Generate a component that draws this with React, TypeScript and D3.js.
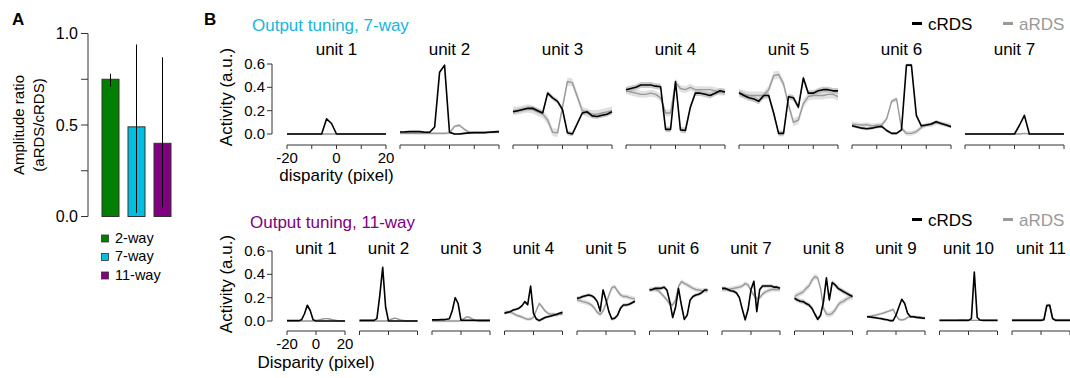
import React from "react";
import * as d3 from "d3";

const FONT = "Liberation Sans, Arial, Helvetica, sans-serif";

// ---- panel A data ----
const groups = ["2-way", "7-way", "11-way"];
const groupColors = ["#007f00", "#00bfe0", "#800080"];
const ampRatio = [0.75, 0.49, 0.4];
const ampLow = [0.71, 0.02, 0.05];
const ampHigh = [0.78, 0.94, 0.87];

// ---- panel B data ----
const disparity = [-20, -18, -16, -14, -12, -10, -8, -6, -4, -2, 0, 2, 4, 6, 8, 10, 12, 14, 16, 18, 20];

const cRDS7 = [
  [0, 0, 0, 0, 0, 0, 0, 0, 0.13, 0.09, 0, 0, 0, 0, 0, 0, 0, 0, 0, 0, 0],
  [0.017, 0.018, 0.02, 0.022, 0.02, 0.015, 0.015, 0.06, 0.53, 0.59, 0.015, 0.0, 0.0, 0.005, 0.01, 0.012, 0.012, 0.012, 0.015, 0.018, 0.02],
  [0.19, 0.2, 0.21, 0.22, 0.22, 0.2, 0.18, 0.35, 0.31, 0.28, 0.21, 0.01, 0.0, 0.09, 0.18, 0.19, 0.155, 0.15, 0.16, 0.17, 0.19],
  [0.38, 0.39, 0.4, 0.42, 0.42, 0.42, 0.41, 0.405, 0.04, 0.04, 0.45, 0.035, 0.03, 0.23, 0.35, 0.35, 0.34, 0.33, 0.35, 0.37, 0.36],
  [0.354, 0.33, 0.31, 0.3, 0.28, 0.33, 0.33, 0.18, 0.005, 0.005, 0.32, 0.31, 0.23, 0.48, 0.35, 0.35, 0.37, 0.38, 0.38, 0.37, 0.37],
  [0.07, 0.06, 0.05, 0.045, 0.05, 0.06, 0.065, 0.03, 0.005, 0.005, 0.035, 0.59, 0.59, 0.16, 0.07, 0.077, 0.085, 0.105, 0.09, 0.077, 0.063],
  [0, 0, 0, 0, 0, 0, 0, 0, 0, 0, 0, 0.075, 0.16, 0, 0, 0, 0, 0, 0, 0, 0],
];
const aRDS7 = [
  [0, 0, 0, 0, 0, 0, 0, 0, 0, 0, 0, 0, 0, 0, 0, 0, 0, 0, 0, 0, 0],
  [0.005, 0.005, 0.005, 0.005, 0.005, 0.005, 0.005, 0.005, 0.005, 0.005, 0.01, 0.065, 0.075, 0.04, 0.015, 0.012, 0.012, 0.012, 0.015, 0.015, 0.018],
  [0.2, 0.2, 0.21, 0.22, 0.21, 0.19, 0.17, 0.12, 0.015, 0.01, 0.23, 0.45, 0.44, 0.32, 0.2, 0.18, 0.17, 0.17, 0.18, 0.19, 0.2],
  [0.37, 0.36, 0.35, 0.34, 0.34, 0.35, 0.34, 0.31, 0.18, 0.18, 0.44, 0.39, 0.38, 0.4, 0.38, 0.38, 0.38, 0.38, 0.37, 0.36, 0.36],
  [0.35, 0.34, 0.33, 0.33, 0.33, 0.33, 0.38, 0.5, 0.51, 0.43, 0.25, 0.1, 0.12, 0.26, 0.32, 0.33, 0.33, 0.33, 0.34, 0.34, 0.32],
  [0.085, 0.08, 0.077, 0.08, 0.07, 0.075, 0.077, 0.13, 0.28, 0.3, 0.05, 0.005, 0.005, 0.02, 0.057, 0.077, 0.08, 0.097, 0.09, 0.08, 0.07],
  [0, 0, 0, 0, 0, 0, 0, 0, 0, 0, 0, 0, 0.005, 0, 0, 0, 0, 0, 0, 0, 0],
];
const bandC7 = [0.004, 0.008, 0.02, 0.025, 0.025, 0.012, 0.004];
const bandA7 = [0.004, 0.012, 0.035, 0.03, 0.035, 0.02, 0.004];

const cRDS11 = [
  [0.003, 0.003, 0.003, 0.003, 0.003, 0.01, 0.06, 0.135, 0.09, 0.01, 0, 0, 0, 0, 0, 0, 0, 0, 0, 0, 0],
  [0.005, 0.005, 0.005, 0.005, 0.005, 0.005, 0.02, 0.22, 0.46, 0.12, 0.0, 0, 0, 0, 0, 0, 0, 0, 0, 0, 0],
  [0.01, 0.01, 0.01, 0.012, 0.012, 0.015, 0.02, 0.09, 0.2, 0.15, 0.005, 0.005, 0.005, 0.005, 0.005, 0.005, 0.005, 0.005, 0.005, 0.005, 0.005],
  [0.066, 0.074, 0.08, 0.094, 0.1, 0.11, 0.13, 0.166, 0.14, 0.3, 0.066, 0.017, 0.003, 0.017, 0.03, 0.037, 0.043, 0.05, 0.057, 0.066, 0.074],
  [0.194, 0.2, 0.21, 0.217, 0.223, 0.217, 0.2, 0.166, 0.086, 0.266, 0.18, 0.08, 0.017, 0.023, 0.05, 0.11, 0.137, 0.137, 0.143, 0.157, 0.17],
  [0.266, 0.27, 0.28, 0.28, 0.28, 0.29, 0.266, 0.166, 0.03, 0.12, 0.28, 0.137, 0.014, 0.05, 0.18, 0.21, 0.223, 0.23, 0.243, 0.266, 0.266],
  [0.28, 0.28, 0.27, 0.26, 0.255, 0.24, 0.2, 0.1, 0.01, 0.1, 0.27, 0.34, 0.08, 0.27, 0.3, 0.3, 0.3, 0.3, 0.29, 0.29, 0.28],
  [0.195, 0.18, 0.17, 0.166, 0.15, 0.137, 0.11, 0.06, 0.015, 0.05, 0.166, 0.37, 0.18, 0.33, 0.31, 0.28, 0.266, 0.25, 0.237, 0.223, 0.21],
  [0.037, 0.035, 0.031, 0.028, 0.023, 0.02, 0.014, 0.01, 0.003, 0.003, 0.05, 0.12, 0.186, 0.15, 0.066, 0.037, 0.037, 0.031, 0.029, 0.025, 0.023],
  [0.005, 0.005, 0.005, 0.005, 0.005, 0.005, 0.005, 0.005, 0.005, 0.005, 0.005, 0.02, 0.42, 0.03, 0.008, 0.005, 0.005, 0.005, 0.005, 0.005, 0.005],
  [0.005, 0.005, 0.005, 0.005, 0.005, 0.005, 0.005, 0.005, 0.005, 0.005, 0.005, 0.01, 0.13, 0.135, 0.02, 0.005, 0.005, 0.005, 0.005, 0.005, 0.005],
];
const aRDS11 = [
  [0, 0, 0, 0, 0, 0, 0, 0, 0, 0, 0.005, 0.01, 0.015, 0.02, 0.02, 0.015, 0.01, 0.005, 0, 0, 0],
  [0, 0, 0, 0, 0, 0, 0, 0, 0, 0, 0.005, 0.015, 0.025, 0.02, 0.01, 0.005, 0, 0, 0, 0, 0],
  [0, 0, 0, 0, 0, 0, 0, 0, 0, 0, 0.005, 0.02, 0.035, 0.03, 0.015, 0.005, 0, 0, 0, 0, 0],
  [0.074, 0.074, 0.075, 0.066, 0.05, 0.043, 0.034, 0.023, 0.014, 0.017, 0.03, 0.094, 0.15, 0.12, 0.086, 0.066, 0.057, 0.06, 0.05, 0.06, 0.057],
  [0.18, 0.175, 0.166, 0.16, 0.151, 0.137, 0.11, 0.074, 0.057, 0.086, 0.15, 0.22, 0.286, 0.294, 0.257, 0.223, 0.21, 0.21, 0.2, 0.194, 0.19],
  [0.27, 0.27, 0.27, 0.26, 0.237, 0.21, 0.18, 0.146, 0.137, 0.18, 0.294, 0.337, 0.323, 0.31, 0.294, 0.28, 0.27, 0.266, 0.26, 0.26, 0.26],
  [0.27, 0.27, 0.27, 0.275, 0.28, 0.285, 0.29, 0.3, 0.32, 0.31, 0.26, 0.22, 0.19, 0.2, 0.23, 0.25, 0.26, 0.27, 0.27, 0.27, 0.27],
  [0.21, 0.223, 0.237, 0.25, 0.28, 0.3, 0.35, 0.38, 0.37, 0.28, 0.11, 0.06, 0.055, 0.066, 0.094, 0.137, 0.16, 0.17, 0.19, 0.2, 0.21],
  [0.037, 0.04, 0.046, 0.05, 0.057, 0.063, 0.071, 0.08, 0.089, 0.1, 0.05, 0.014, 0.009, 0.014, 0.031, 0.037, 0.037, 0.035, 0.033, 0.03, 0.028],
  [0.005, 0.005, 0.005, 0.005, 0.005, 0.005, 0.005, 0.008, 0.01, 0.008, 0.005, 0.005, 0.005, 0.005, 0.005, 0.005, 0.005, 0.005, 0.005, 0.005, 0.005],
  [0.01, 0.01, 0.01, 0.01, 0.01, 0.01, 0.01, 0.01, 0.01, 0.01, 0.01, 0.015, 0.14, 0.14, 0.025, 0.01, 0.01, 0.01, 0.01, 0.01, 0.01],
];
const bandC11 = [0.004, 0.005, 0.006, 0.012, 0.015, 0.015, 0.015, 0.02, 0.01, 0.005, 0.006];
const bandA11 = [0.006, 0.008, 0.01, 0.015, 0.02, 0.02, 0.02, 0.025, 0.012, 0.006, 0.01];

const activityTicks = [0, 0.2, 0.4, 0.6];

type RowProps = {
  title: string;
  titleColor: string;
  titleX: number;
  titleY: number;
  legendY: number;
  c: number[][];
  a: number[][];
  bc: number[];
  ba: number[];
  left: number;
  step: number;
  w: number;
  y0: number;
  y1: number;
  axisY: number;
  ticks: number[];
  tickLabels: number[];
  tickLabelY: number;
  xLabel: string;
  xLabelY: number;
  unitY: number;
};

function TuningRow(p: RowProps) {
  const y = d3.scaleLinear().domain([0, 0.6]).range([p.y0, p.y1]);
  const yAxisX = 272;
  return (
    <g>
      <text x={p.titleX} y={p.titleY} fontSize={17} fill={p.titleColor}>{p.title}</text>
      {/* legend */}
      <line x1={912} x2={922} y1={p.legendY - 6.5} y2={p.legendY - 6.5} stroke="#000" strokeWidth={3} />
      <text x={928} y={p.legendY} fontSize={17} fill="#000">cRDS</text>
      <line x1={1003} x2={1013} y1={p.legendY - 6.5} y2={p.legendY - 6.5} stroke="#999" strokeWidth={3} />
      <text x={1019} y={p.legendY} fontSize={17} fill="#999">aRDS</text>

      {/* y axis */}
      <line x1={yAxisX} x2={yAxisX} y1={y(0)} y2={y(0.6)} stroke="#333" />
      {activityTicks.map((t) => (
        <g key={t}>
          <line x1={yAxisX - 5} x2={yAxisX} y1={y(t)} y2={y(t)} stroke="#333" />
          <text x={yAxisX - 7} y={y(t) + 5} fontSize={15} textAnchor="end">{t.toFixed(1)}</text>
        </g>
      ))}
      <text
        transform={`translate(232, ${(p.y0 + p.y1) / 2 - 2}) rotate(-90)`}
        fontSize={17}
        textAnchor="middle"
      >
        Activity (a.u.)
      </text>

      {p.c.map((cs, i) => {
        const xl = p.left + i * p.step;
        const x = d3.scaleLinear().domain([-20, 20]).range([xl, xl + p.w]);
        const line = d3
          .line<number>()
          .x((_, j) => x(disparity[j]))
          .y((v) => y(v));
        const band = (b: number) =>
          d3
            .area<number>()
            .x((_, j) => x(disparity[j]))
            .y0((v) => y(v - b))
            .y1((v) => y(v + b));
        return (
          <g key={i}>
            <text x={(xl + xl + p.w) / 2} y={p.unitY} fontSize={17} textAnchor="middle">
              unit {i + 1}
            </text>
            <path d={band(p.ba[i])(p.a[i]) || ""} fill="#dcdcdc" opacity={0.85} />
            <path d={band(p.bc[i])(cs) || ""} fill="#b4b4b4" opacity={0.7} />
            <path d={line(p.a[i]) || ""} fill="none" stroke="#999" strokeWidth={1.4} strokeLinejoin="round" />
            <path d={line(cs) || ""} fill="none" stroke="#000" strokeWidth={1.6} strokeLinejoin="round" />
            {/* x axis */}
            <line x1={x(-20)} x2={x(20)} y1={p.axisY} y2={p.axisY} stroke="#333" />
            {p.ticks.map((t) => (
              <line key={t} x1={x(t)} x2={x(t)} y1={p.axisY} y2={p.axisY + 4} stroke="#333" />
            ))}
            {i === 0 &&
              p.tickLabels.map((t) => (
                <text key={t} x={x(t)} y={p.tickLabelY} fontSize={15} textAnchor="middle">
                  {t}
                </text>
              ))}
            {i === 0 && (
              <text x={(xl + xl + p.w) / 2} y={p.xLabelY} fontSize={17} textAnchor="middle">
                {p.xLabel}
              </text>
            )}
          </g>
        );
      })}
    </g>
  );
}

function PanelA() {
  const y = d3.scaleLinear().domain([0, 1]).range([216.5, 33.5]);
  const x = d3.scaleBand<string>().domain(groups).range([97.5, 175.5]).paddingInner(0.346).paddingOuter(0.173);
  const axisX = 88;
  const ticks = [0, 0.25, 0.5, 0.75, 1];
  const labeled = [0, 0.5, 1];
  return (
    <g>
      <text x={12} y={25} fontSize={17} fontWeight="bold">A</text>
      <line x1={axisX} x2={axisX} y1={y(0)} y2={y(1)} stroke="#333" />
      {ticks.map((t) => (
        <line key={t} x1={axisX - 7} x2={axisX} y1={y(t)} y2={y(t)} stroke="#333" />
      ))}
      {labeled.map((t) => (
        <text key={t} x={78} y={y(t) + 5.5} fontSize={16} textAnchor="end">{t.toFixed(1)}</text>
      ))}
      <text transform={`translate(24, ${(y(0) + y(1)) / 2}) rotate(-90)`} fontSize={15} textAnchor="middle">
        Amplitude ratio
      </text>
      <text transform={`translate(44, ${(y(0) + y(1)) / 2}) rotate(-90)`} fontSize={15} textAnchor="middle">
        (aRDS/cRDS)
      </text>
      {groups.map((g, i) => {
        const bx = x(g) as number;
        const cx = bx + x.bandwidth() / 2;
        return (
          <g key={g}>
            <rect x={bx} y={y(ampRatio[i])} width={x.bandwidth()} height={y(0) - y(ampRatio[i])} fill={groupColors[i]} stroke="#333" strokeWidth={1} />
            <line x1={cx} x2={cx} y1={y(ampLow[i])} y2={y(ampHigh[i])} stroke="#000" strokeWidth={1} />
          </g>
        );
      })}
      {groups.map((g, i) => (
        <g key={g}>
          <rect x={101.5} y={235 + i * 18.5} width={7} height={7} fill={groupColors[i]} stroke="#333" strokeWidth={0.8} />
          <text x={115} y={242.5 + i * 18.5} fontSize={14.5}>{g}</text>
        </g>
      ))}
    </g>
  );
}

export default function App() {
  return (
    <svg
      width={1070}
      height={378}
      style={{ position: "absolute", left: 0, top: 0, background: "#fff" }}
      fontFamily={FONT}
    >
      <rect width={1070} height={378} fill="#fff" />
      <PanelA />
      <text x={204} y={25} fontSize={17} fontWeight="bold">B</text>
      <TuningRow
        title="Output tuning, 7-way"
        titleColor="#19b4da"
        titleX={252}
        titleY={31}
        legendY={30}
        c={cRDS7}
        a={aRDS7}
        bc={bandC7}
        ba={bandA7}
        left={287}
        step={113}
        w={99}
        y0={134}
        y1={64}
        axisY={145}
        ticks={[-20, -10, 0, 10, 20]}
        tickLabels={[-20, 0, 20]}
        tickLabelY={163}
        xLabel="disparity (pixel)"
        xLabelY={181}
        unitY={55}
      />
      <TuningRow
        title="Output tuning, 11-way"
        titleColor="#800080"
        titleX={250}
        titleY={228}
        legendY={226}
        c={cRDS11}
        a={aRDS11}
        bc={bandC11}
        ba={bandA11}
        left={287}
        step={72.5}
        w={58}
        y0={321}
        y1={251}
        axisY={331}
        ticks={[-20, 0, 20]}
        tickLabels={[-20, 0, 20]}
        tickLabelY={349}
        xLabel="Disparity (pixel)"
        xLabelY={368}
        unitY={254}
      />
    </svg>
  );
}
